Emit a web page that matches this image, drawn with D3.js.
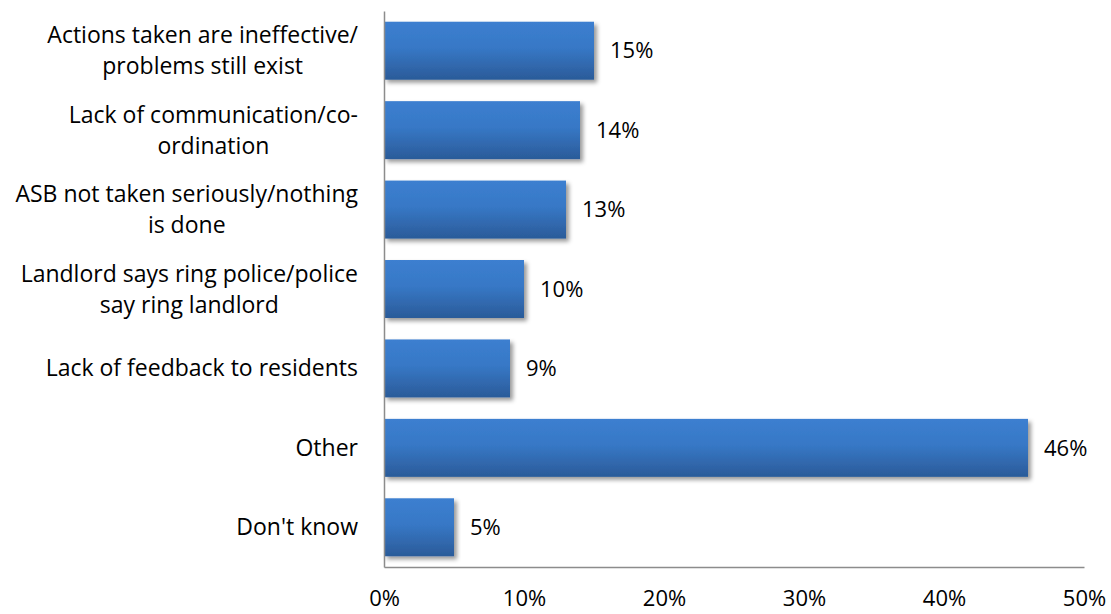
<!DOCTYPE html>
<html>
<head>
<meta charset="utf-8">
<script src="https://cdn.jsdelivr.net/npm/d3@7"></script>
<style>
  html, body { margin: 0; padding: 0; background: #fff; }
  svg { display: block; }
  text { font-family: "Open Sans", Lato, sans-serif; fill: #000; }
</style>
</head>
<body>
<svg id="chart" width="1111" height="614"></svg>
<script>
// Reasons given for dissatisfaction with how ASB reports were handled
const categories = [
  ["Actions taken are ineffective/", "problems still exist"],
  ["Lack of communication/co-", "ordination"],
  ["ASB not taken seriously/nothing", "is done"],
  ["Landlord says ring police/police", "say ring landlord"],
  ["Lack of feedback to residents"],
  ["Other"],
  ["Don't know"]
];
const values = [15, 14, 13, 10, 9, 46, 5];
const tickValues = [0, 10, 20, 30, 40, 50];

const svg = d3.select("#chart");
const labelSize = 23;
const numberSize = 22;
const margin = { left: 384, right: 27, top: 11, bottom: 47 };
const W = 1111, H = 614;

const x = d3.scaleLinear().domain([0, 50]).range([margin.left, W - margin.right]);
const y = d3.scaleBand()
  .domain(d3.range(categories.length))
  .range([margin.top, H - margin.bottom])
  .paddingInner(0.27)
  .paddingOuter(0.135);

const defs = svg.append("defs");
const grad = defs.append("linearGradient")
  .attr("id", "barFill").attr("x1", 0).attr("y1", 0).attr("x2", 0).attr("y2", 1);
grad.append("stop").attr("offset", "0%").attr("stop-color", "#3c7fd0");
grad.append("stop").attr("offset", "45%").attr("stop-color", "#3778c6");
grad.append("stop").attr("offset", "100%").attr("stop-color", "#2b5b99");

const shadow = defs.append("filter").attr("id", "shadow")
  .attr("x", "-5%").attr("y", "-20%").attr("width", "115%").attr("height", "150%");
shadow.append("feDropShadow")
  .attr("dx", 3).attr("dy", 3).attr("stdDeviation", 2.2)
  .attr("flood-color", "#000").attr("flood-opacity", 0.4);

// bars
svg.append("g").selectAll("rect")
  .data(values)
  .join("rect")
  .attr("x", x(0))
  .attr("y", (d, i) => y(i))
  .attr("width", d => x(d) - x(0))
  .attr("height", y.bandwidth())
  .attr("fill", "url(#barFill)")
  .attr("filter", "url(#shadow)");

// value labels
svg.append("g").selectAll("text")
  .data(values)
  .join("text")
  .attr("x", d => x(d) + 16)
  .attr("y", (d, i) => y(i) + y.bandwidth() / 2)
  .attr("dy", "0.35em")
  .attr("font-size", numberSize)
  .text(d => d + "%");

// x axis
const xAxis = d3.axisBottom(x)
  .tickValues(tickValues)
  .tickFormat(d => d + "%")
  .tickSize(0)
  .tickPadding(23);
const gx = svg.append("g")
  .attr("transform", `translate(0,${H - margin.bottom})`)
  .call(xAxis);
gx.select(".domain").attr("stroke", "#8c8c8c").attr("stroke-width", 1.5);
gx.selectAll(".tick text")
  .attr("font-size", numberSize)
  .attr("font-family", null)
  .attr("fill", "#000");

// y axis line
const yAxis = d3.axisLeft(y).tickSize(0).tickFormat("");
const gy = svg.append("g")
  .attr("transform", `translate(${margin.left},0)`)
  .call(yAxis);
gy.select(".domain").attr("stroke", "#8c8c8c").attr("stroke-width", 1.5);

// category labels: block right-aligned, lines centred within the block
const labelRight = 358;
const lineH = 31;
const lg = svg.append("g");
categories.forEach((lines, i) => {
  const g = lg.append("g");
  const texts = lines.map(l => g.append("text")
    .attr("font-size", labelSize)
    .attr("text-anchor", "middle")
    .attr("dy", "0.35em")
    .text(l));
  const widths = texts.map(t => t.node().getComputedTextLength());
  const maxW = d3.max(widths);
  const cx = labelRight - maxW / 2;
  const cy = y(i) + y.bandwidth() / 2;
  texts.forEach((t, k) => {
    t.attr("x", cx).attr("y", cy + (k - (lines.length - 1) / 2) * lineH);
  });
});
</script>
</body>
</html>
